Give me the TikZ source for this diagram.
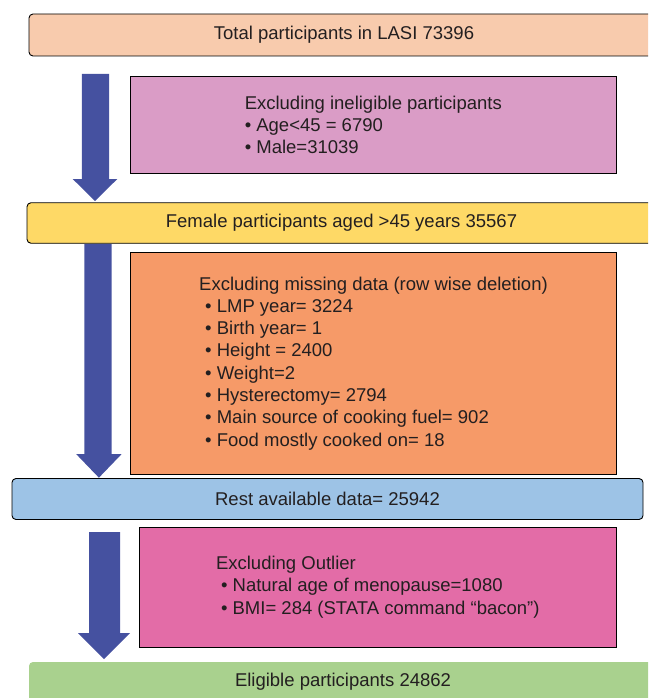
\documentclass[tikz,border=0pt]{standalone}
\usepackage{fontspec}
\setmainfont{Liberation Sans}
\definecolor{peach}{HTML}{F8CBAD}
\definecolor{pinkbox}{HTML}{DA9CC6}
\definecolor{yellowbox}{HTML}{FED966}
\definecolor{orangebox}{HTML}{F69A68}
\definecolor{bluebox}{HTML}{9DC3E6}
\definecolor{magentabox}{HTML}{E36CA7}
\definecolor{greenbox}{HTML}{A9D18E}
\definecolor{arrowblue}{HTML}{4551A0}
\definecolor{txt}{HTML}{231F20}
\begin{document}
\begin{tikzpicture}[x=1pt,y=-1pt,
  every node/.style={text=txt, font=\fontsize{18.5}{22.3}\selectfont, inner sep=0pt, outer sep=0pt},
  stagebox/.style={draw=black, line width=0.9pt, rounded corners=4pt},
  exclbox/.style={draw=black, line width=1pt, align=left},
]
\useasboundingbox (0,0) rectangle (648,698);
\clip (0,0) rectangle (648,698);
\newcommand{\dnarrow}[7]{% cx shaft-halfwidth head-cx head-halfwidth top headstart tip
  \fill[arrowblue] ({#1-#2},#5) -- ({#1+#2},#5) -- ({#1+#2},#6) -- ({#3+#4},#6)
    -- (#3,#7) -- ({#3-#4},#6) -- ({#1-#2},#6) -- cycle;}

% stage boxes
\node[stagebox, fill=peach, minimum width=630pt, minimum height=42pt] (total) at (344,35) {Total participants in LASI 73396};
\node[stagebox, fill=yellowbox, minimum width=629pt, minimum height=40.5pt] (female) at (341.5,223) {Female participants aged >45 years 35567};
\node[stagebox, fill=bluebox, minimum width=631pt, minimum height=41pt] (rest) at (327.5,499) {Rest available data= 25942};
\node[stagebox, draw=none, fill=greenbox, minimum width=628pt, minimum height=40pt] (eligible) at (343,682) {Eligible participants 24862};

% exclusion boxes
\node[exclbox, fill=pinkbox, minimum width=486.5pt, minimum height=97pt] (inel) at (373.3,125)
  {Excluding ineligible participants\\
   • Age<45 = 6790\\
   • Male=31039};
\node[exclbox, fill=orangebox, minimum width=486pt, minimum height=222.5pt] (missing) at (373.5,363.3)
  {Excluding missing data (row wise deletion)\\
   \hspace{6pt}• LMP year= 3224\\
   \hspace{6pt}• Birth year= 1\\
   \hspace{6pt}• Height = 2400\\
   \hspace{6pt}• Weight=2\\
   \hspace{6pt}• Hysterectomy= 2794\\
   \hspace{6pt}• Main source of cooking fuel= 902\\
   \hspace{6pt}• Food mostly cooked on= 18};
\node[exclbox, fill=magentabox, minimum width=477.5pt, minimum height=120pt] (outlier) at (377.8,587)
  {Excluding Outlier\\
   \hspace{5pt}• Natural age of menopause=1080\\
   \hspace{5pt}• BMI= 284 (STATA command “bacon”)};

% block arrows
\dnarrow{95.5}{13.6}{95}{22.3}{74}{179}{201}
\dnarrow{98}{13.7}{98.9}{22.8}{244}{454}{477.7}
\dnarrow{104.5}{15.5}{104}{26}{532}{633}{659}
\end{tikzpicture}
\end{document}
